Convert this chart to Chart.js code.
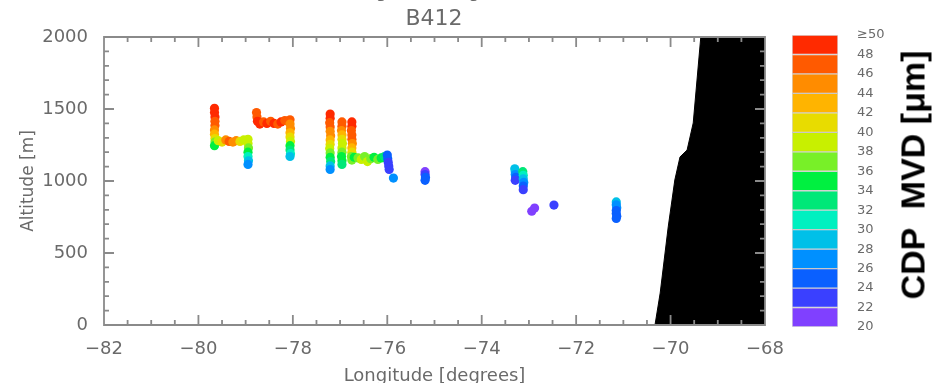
<!DOCTYPE html>
<html>
<head>
<meta charset="utf-8">
<script src="https://cdn.jsdelivr.net/npm/chart.js@4.4.1/dist/chart.umd.min.js"></script>
<style>
  html, body { margin: 0; padding: 0; background: #fff; overflow: hidden; }
  #wrap { position: relative; width: 948px; height: 383px; overflow: hidden; }
  #main { position: absolute; left: 0; top: 0; }
  #bar { position: absolute; left: 760px; top: 0; }
  .txt { position: absolute; white-space: pre; }
  #prevLabel { left: 0; width: 869px; top: -19px; text-align: center; font: 18px/20px "DejaVu Sans"; color: #6a6a6a; }
  #title { left: 0; width: 868px; top: 6px; text-align: center; font: 22px/24px "DejaVu Sans"; color: #6a6a6a; }
  #cbTitle { left: 913px; top: 175px; font: bold 34px "Liberation Sans"; color: #000;
             transform: translate(-50%, -50%) rotate(-90deg); }
</style>
</head>
<body>
<div id="wrap">
  <canvas id="main" width="948" height="395"></canvas>
  <canvas id="bar" width="188" height="383"></canvas>
  <div class="txt" id="prevLabel">Longitude [degrees]</div>
  <div class="txt" id="title">B412</div>
  <div class="txt" id="cbTitle">CDP  MVD [μm]</div>
</div>
<script>
/* ---------- data ---------- */

// flight track samples: longitude, altitude [m], CDP MVD [um]
const lon = [
  // first profile
  -79.66,-79.66,-79.65,-79.65,-79.65,-79.66,-79.66,-79.65,-79.65,-79.66,
  -79.58,-79.50,-79.42,-79.35,-79.27,-79.20,-79.12,-79.04,
  -78.95,-78.95,-78.94,-78.95,-78.95,-78.94,-78.95,
  // second leg
  -78.77,-78.76,-78.75,
  -78.70,-78.62,-78.55,-78.47,-78.40,-78.32,-78.25,-78.17,-78.10,
  -78.06,-78.06,-78.05,-78.06,-78.06,-78.05,-78.06,-78.06,-78.05,-78.06,
  // saw-tooth section
  -77.21,-77.21,-77.22,-77.21,-77.21,-77.20,-77.21,-77.21,-77.22,-77.21,-77.21,-77.20,-77.21,-77.21,
  -76.96,-76.96,-76.97,-76.96,-76.96,-76.95,-76.96,-76.96,-76.97,-76.96,-76.96,
  -76.75,-76.75,-76.76,-76.75,-76.75,-76.74,-76.75,-76.75,-76.76,-76.75,
  -76.70,-76.62,-76.55,-76.48,-76.42,-76.35,-76.28,-76.20,-76.13,-76.06,
  -76.00,-75.99,-75.98,-75.97,-75.96,
  -75.87,
  // eastern samples
  -75.20,-75.20,-75.19,-75.20,
  -73.30,-73.29,-73.29,-73.28,-73.29,
  -73.13,-73.12,-73.12,-73.11,-73.12,-73.12,
  -72.94,-72.88,-72.47,
  -71.15,-71.15,-71.14,-71.15,-71.15,-71.14,-71.15
];
const alt = [
  1505,1475,1445,1415,1385,1355,1325,1295,1270,1245,
  1280,1270,1285,1275,1270,1280,1275,1285,
  1290,1260,1230,1200,1170,1140,1115,
  1475,1445,1415,
  1395,1410,1400,1415,1400,1395,1410,1420,1415,
  1425,1395,1365,1335,1305,1275,1245,1215,1190,1170,
  1465,1435,1405,1375,1345,1315,1285,1255,1225,1195,1165,1135,1105,1080,
  1410,1380,1350,1320,1290,1260,1230,1200,1170,1140,1115,
  1410,1380,1350,1320,1290,1260,1230,1200,1170,1145,
  1165,1160,1150,1170,1135,1155,1165,1150,1160,1170,
  1180,1155,1130,1105,1080,
  1020,
  1065,1045,1025,1005,
  1085,1065,1045,1025,1005,
  1065,1040,1015,990,965,940,
  790,812,833,
  855,835,815,795,775,755,740
];
const mvd = [
  49,48,48,47,46,44,42,40,37,34,
  38,40,44,46,45,44,41,39,
  39,38,36,34,31,28,26,
  46,47,48,
  48,47,49,46,48,47,49,46,47,
  46,45,44,42,40,38,35,33,30,28,
  48,48,47,46,45,44,42,40,38,36,34,32,29,27,
  47,46,45,43,41,39,38,36,35,34,33,
  48,48,47,47,46,45,43,40,37,36,
  35,37,38,37,39,36,35,37,34,33,
  25,24,23,22,23,
  26,
  21,22,24,25,
  29,28,26,24,23,
  32,31,29,27,25,23,
  21,21,22,
  28,27,26,25,25,25,25
];

// terrain outline (Andes) – black area to the right
const terrainLon = [-70.33, -70.22, -70.05, -69.91, -69.80, -69.65, -69.52, -69.36, -68.0];
const terrainAlt = [0, 222, 681, 1007, 1167, 1215, 1403, 2000, 2000];

// colour bar bins (um)
const binEdges = [20, 22, 24, 26, 28, 30, 32, 34, 36, 38, 40, 42, 44, 46, 48, 50];
const binColors = [
  '#8040ff', '#3a40ff', '#0a60ff', '#0090ff', '#00c0e8',
  '#00f0c0', '#00e878', '#00f040', '#78f028', '#c8f000',
  '#e8dc00', '#ffb400', '#ff8c00', '#ff5a00', '#ff2a00'
];

const xTicks = [-82, -80, -78, -76, -74, -72, -70, -68];
const yTicks = [0, 500, 1000, 1500, 2000];

/* ---------- helpers ---------- */

const GREY = '#6a6a6a';
const FONT = 'DejaVu Sans';

function mvdColor(v) {
  let i = Math.floor((v - binEdges[0]) / 2);
  i = Math.max(0, Math.min(binColors.length - 1, i));
  return binColors[i];
}

const minus = v => (v < 0 ? '\u2212' : '') + Math.abs(v);

// IDL style frame with inward ticks on all four sides
const frameTicks = {
  id: 'frameTicks',
  afterDraw(chart) {
    const ctx = chart.ctx;
    const a = chart.chartArea;
    const sx = chart.scales.x, sy = chart.scales.y;
    ctx.save();
    ctx.strokeStyle = '#8a8a8a';
    ctx.lineWidth = 1.8;
    ctx.beginPath();
    ctx.rect(a.left, a.top, a.right - a.left, a.bottom - a.top);
    for (let k = 0; k <= 28; k++) {
      const v = -82 + k * 0.5;
      const px = sx.getPixelForValue(v);
      const len = k % 4 === 0 ? 10 : 5;
      ctx.moveTo(px, a.bottom); ctx.lineTo(px, a.bottom - len);
      ctx.moveTo(px, a.top); ctx.lineTo(px, a.top + len);
    }
    for (let k = 0; k <= 20; k++) {
      const py = sy.getPixelForValue(k * 100);
      const len = k % 5 === 0 ? 10 : 5;
      ctx.moveTo(a.left, py); ctx.lineTo(a.left + len, py);
      ctx.moveTo(a.right, py); ctx.lineTo(a.right - len, py);
    }
    ctx.stroke();
    ctx.restore();
  }
};

/* ---------- main scatter ---------- */

new Chart(document.getElementById('main'), {
  type: 'scatter',
  data: {
    datasets: [
      {
        label: 'CDP MVD',
        data: lon.map((v, i) => ({ x: v, y: alt[i] })),
        pointRadius: 4.6,
        pointHoverRadius: 4.6,
        borderWidth: 0,
        backgroundColor: ctx => mvdColor(mvd[ctx.dataIndex])
      },
      {
        label: 'terrain',
        data: terrainLon.map((v, i) => ({ x: v, y: terrainAlt[i] })),
        showLine: true,
        fill: 'start',
        backgroundColor: '#000',
        borderColor: '#000',
        borderWidth: 1,
        pointRadius: 0,
        tension: 0
      }
    ]
  },
  options: {
    responsive: false,
    animation: false,
    devicePixelRatio: 1,
    layout: { padding: { left: 0, right: 183, top: 37, bottom: 0 } },
    plugins: {
      legend: { display: false },
      tooltip: { enabled: false }
    },
    scales: {
      x: {
        type: 'linear',
        min: -82, max: -68,
        afterBuildTicks: s => { s.ticks = xTicks.map(v => ({ value: v })); },
        afterFit: s => { s.height = 70; },
        grid: { display: false },
        border: { display: false },
        ticks: {
          color: GREY, padding: 6, maxRotation: 0,
          font: { family: FONT, size: 18 },
          callback: v => minus(v)
        },
        title: {
          display: true, text: 'Longitude [degrees]', color: GREY,
          font: { family: FONT, size: 18 }, padding: { top: 4, bottom: 8 }
        }
      },
      y: {
        min: 0, max: 2000,
        afterBuildTicks: s => { s.ticks = yTicks.map(v => ({ value: v })); },
        afterFit: s => { s.width = 104; },
        grid: { display: false },
        border: { display: false },
        ticks: {
          color: GREY, padding: 8,
          font: { family: FONT, size: 18 },
          callback: v => String(v)
        },
        title: {
          display: true, text: 'Altitude [m]', color: GREY,
          font: { family: FONT, size: 17 }, padding: { top: 18, bottom: 0 }
        }
      }
    }
  },
  plugins: [frameTicks]
});

/* ---------- colour bar ---------- */

new Chart(document.getElementById('bar'), {
  type: 'bar',
  data: {
    labels: [''],
    datasets: binColors.map((c, i) => ({
      data: [[binEdges[i], binEdges[i + 1]]],
      backgroundColor: c,
      borderColor: 'rgba(0,0,0,0.15)',
      borderWidth: 1,
      borderSkipped: false,
      grouped: false,
      barPercentage: 1,
      categoryPercentage: 1
    }))
  },
  options: {
    responsive: false,
    animation: false,
    devicePixelRatio: 1,
    layout: { padding: { left: 32, right: 0, top: 35, bottom: 56 } },
    plugins: { legend: { display: false }, tooltip: { enabled: false } },
    scales: {
      x: { display: false },
      y: {
        position: 'right',
        min: 20, max: 50,
        afterBuildTicks: s => { s.ticks = binEdges.map(v => ({ value: v })); },
        afterFit: s => { s.width = 110; },
        grid: { display: false },
        border: { display: false },
        ticks: {
          color: GREY, padding: 11, autoSkip: false,
          font: { family: FONT, size: 13 },
          callback: v => (v === 50 ? '\u226550' : v)
        }
      }
    }
  }
});
</script>
</body>
</html>
